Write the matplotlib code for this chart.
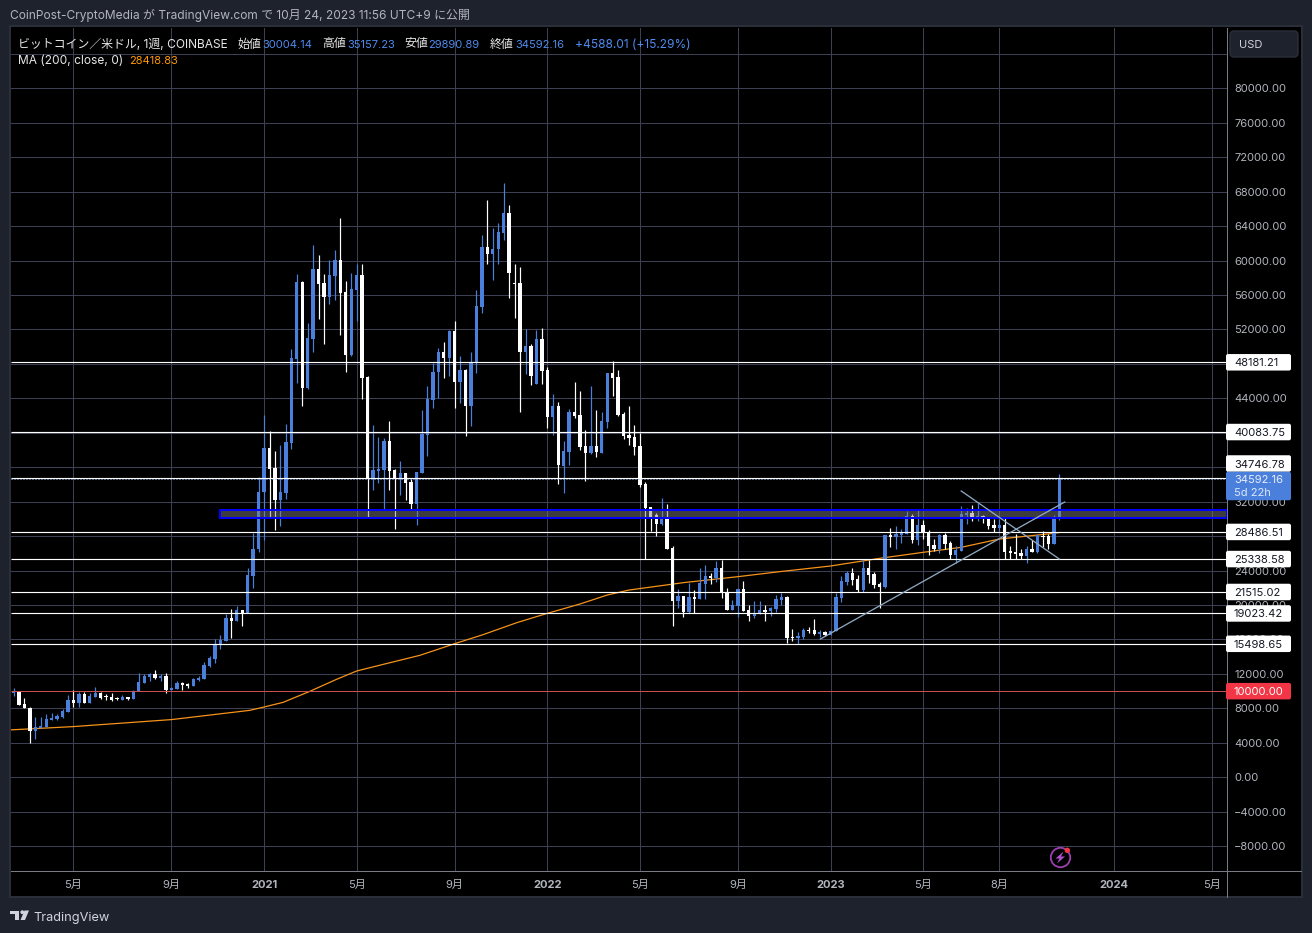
import matplotlib
matplotlib.use("Agg")
import matplotlib.pyplot as plt
import matplotlib.dates as mdates
import pandas as pd
from matplotlib.patches import Rectangle, FancyBboxPatch, Circle, Polygon

plt.rcParams['font.family'] = ['Inter', 'Noto Sans CJK JP', 'DejaVu Sans']

# weekly candles, 2020-02-17 .. 2023-10-23
opens = [9819, 9935, 8548, 8085, 5349, 5773, 5888, 6698, 6813, 7044,
         7623, 9010, 8663, 9704, 8663, 9357, 9819, 9396, 9357, 9126,
         9010, 9357, 9126, 10051, 10976, 11669, 12016, 11553, 11785, 10167,
         10282, 10976, 10860, 10629, 11322, 11438, 12941, 13751, 15485, 15832,
         18491, 18144, 19416, 19069, 23347, 26500, 33100, 38232, 35900, 32194,
         33009, 38813, 48565, 57505, 45198, 50887, 59014, 57389, 55763, 58202,
         60059, 56344, 49029, 56576, 58317, 46475, 34710, 35562, 35678, 39045,
         35678, 34710, 35330, 34285, 31730, 35330, 39740, 43800, 47056, 49380,
         48680, 51816, 45900, 47290, 43108, 48100, 54600, 61570, 60760, 61336,
         63193, 65516, 57388, 57388, 49378, 50075, 45662, 50887, 47288, 41831,
         43108, 36142, 37768, 42412, 42064, 38464, 37652, 38464, 37652, 41250,
         46940, 46475, 42180, 39742, 39510, 38464, 34053, 31382, 30453, 29408,
         29950, 26621, 20468, 21048, 19191, 20932, 20700, 22442, 23370, 23139,
         24299, 21513, 19423, 19888, 21861, 19423, 18726, 18959, 19423, 19307,
         19540, 20584, 20932, 16288, 16172, 16288, 17101, 17101, 16637, 16869,
         16520, 16985, 20816, 22674, 23719, 23022, 21745, 24299, 23603, 22441,
         22093, 28130, 27898, 28130, 28247, 30336, 27550, 29291, 28479, 26970,
         26505, 28130, 27202, 25809, 26273, 30453, 30685, 30220, 30336, 29988,
         29291, 28943, 29291, 26273, 26157, 26041, 25693, 26505, 26157, 28053,
         28014, 27086, 30004.14]
highs = [10398, 9935, 9241, 8201, 7006, 7006, 7392, 7469, 7392, 7892,
         9588, 10167, 9935, 9935, 9819, 10513, 9935, 9666, 9819, 9357,
         9588, 9357, 10167, 12132, 11977, 12132, 12479, 11939, 12132, 10513,
         11207, 11091, 10976, 11553, 11785, 13404, 14097, 16063, 16525, 18954,
         19532, 19878, 19416, 24272, 28363, 34865, 42063, 40206, 37883, 38580,
         41019, 49726, 58434, 57621, 52745, 61800, 60640, 58434, 60059, 61220,
         64900, 57621, 58550, 59595, 59595, 46590, 40902, 39510, 39393, 41367,
         35794, 36723, 35330, 34632, 35450, 42644, 45430, 48140, 49840, 50540,
         51930, 52980, 48900, 47400, 49380, 56576, 62960, 67025, 63774, 64355,
         68999, 66445, 59595, 59246, 52048, 50306, 51932, 52164, 47636, 44502,
         43573, 39045, 42760, 45895, 44850, 40322, 45430, 42644, 42412, 46940,
         48333, 47288, 42412, 43108, 40902, 39974, 34285, 31382, 30685, 32400,
         31730, 26853, 21861, 21048, 22558, 21745, 24299, 24647, 23719, 25112,
         25228, 21977, 20584, 21861, 22790, 20003, 20468, 20468, 20003, 19771,
         21165, 21397, 21048, 17217, 16868, 17333, 17450, 18378, 17101, 16985,
         17101, 21397, 23370, 23951, 24299, 23486, 25305, 25228, 23835, 22674,
         28130, 28943, 29175, 28827, 30917, 30568, 31033, 29872, 28711, 27627,
         28247, 28363, 27434, 26853, 31497, 31265, 31613, 31846, 30453, 29988,
         29988, 29988, 30220, 26853, 28247, 26505, 26853, 27550, 28130, 28595,
         28247, 30453, 35157.23]
lows = [9396, 8432, 8008, 3961, 4501, 5773, 5888, 6698, 6620, 6852,
        7623, 8201, 8201, 8663, 8663, 9357, 9126, 9010, 8895, 9010,
        9010, 9010, 9126, 10051, 10976, 11207, 11438, 11207, 9819, 10167,
        10282, 10167, 10398, 10629, 11207, 11438, 12826, 13288, 14907, 15832,
        16179, 18144, 17566, 19069, 21960, 26200, 27551, 30260, 28712, 29177,
        32311, 38116, 45779, 43109, 45083, 49378, 53209, 50307, 54951, 55415,
        51352, 47056, 48913, 52977, 43921, 30260, 33356, 34170, 31189, 33356,
        28828, 32776, 32195, 31100, 29300, 35330, 37300, 42875, 44040, 46360,
        46590, 42876, 43460, 39625, 40786, 46940, 53900, 59590, 57737, 59595,
        62380, 55647, 53325, 42412, 46824, 45546, 45662, 45662, 40554, 39742,
        34053, 33008, 36258, 41715, 38000, 34400, 37536, 37188, 37652, 40554,
        44270, 41947, 39277, 38580, 37420, 33705, 25344, 28595, 28015, 29291,
        26505, 17566, 19655, 18610, 19075, 19075, 20700, 20700, 22442, 22674,
        20816, 19423, 19423, 18610, 19307, 18146, 18494, 18959, 18146, 18726,
        19191, 20003, 15592, 15824, 15476, 16056, 16753, 16520, 16288, 16404,
        16520, 16985, 20352, 22325, 22325, 21513, 21513, 22558, 21977, 19655,
        21977, 26737, 26505, 27202, 28247, 27202, 26970, 27666, 25809, 26273,
        26041, 26505, 25344, 24880, 26273, 29408, 29756, 29756, 29524, 28827,
        28479, 28595, 25344, 25344, 25344, 25344, 24880, 26157, 26041, 26737,
        26505, 27086, 29890.89]
closes = [10012, 8432, 8008, 5349, 5850, 6004, 6813, 6929, 7160, 7738,
          9010, 8663, 9704, 8663, 9473, 9819, 9241, 9318, 9010, 9049,
          9357, 9126, 9935, 11091, 11785, 12016, 11553, 11785, 10167, 10398,
          10976, 10745, 10629, 11438, 11553, 13057, 13866, 15369, 15947, 18491,
          18144, 19416, 19069, 23463, 26500, 33124, 38232, 35794, 32194, 33125,
          38929, 48681, 57505, 45198, 51003, 59014, 57273, 55763, 58317, 60059,
          56228, 49029, 56692, 58317, 46359, 34710, 35678, 35794, 39045, 35562,
          34710, 35330, 34160, 31730, 35450, 39858, 43920, 47056, 49380, 48680,
          51816, 45900, 47290, 43110, 48100, 54720, 61570, 60760, 61336, 63310,
          65516, 58550, 57270, 49378, 50075, 46591, 50887, 47172, 41831, 43108,
          36258, 37884, 42412, 41947, 38348, 37652, 38464, 37768, 41367, 46940,
          46358, 42064, 39625, 39393, 38348, 33936, 31304, 30220, 29408, 30000,
          26505, 20468, 21048, 19191, 20932, 20700, 22558, 23370, 23139, 24299,
          21513, 19423, 20000, 21861, 19307, 18726, 18959, 19423, 19191, 19655,
          20700, 20932, 16172, 16172, 16404, 17101, 16985, 16637, 16869, 16520,
          16985, 20932, 22790, 23719, 22906, 21745, 24299, 23486, 22325, 22093,
          28130, 27898, 28247, 28363, 30336, 27550, 29291, 28363, 26853, 26505,
          28130, 27086, 25809, 26389, 30568, 30685, 30220, 30336, 30104, 29175,
          28943, 29291, 26157, 26041, 25925, 25693, 26505, 26157, 28130, 27898,
          27086, 30004.14, 34592.16]

first_week = '2020-02-17'

# 200 week MA, week number from first_week / value
ma_weeks = [-1, 11, 29, 43.4, 46, 49.5, 54.4, 59.3, 63, 67.9, 74.6, 81.2, 86.2,
            92.4, 97.6, 104, 109, 113, 123, 133, 141, 150, 159, 167, 174, 181, 191, 192]
ma_values = [5490, 5888, 6700, 7775, 8161, 8703, 9980, 11373, 12341, 13115, 14160,
             15553, 16559, 17952, 18959, 20120, 21160, 21740, 22600, 23293, 23900,
             24531, 25420, 26118, 26700, 27666, 28324, 28419]

levels = [48181.21, 40083.75, 34746.78, 28486.51, 25338.58, 21515.02, 19023.42, 15498.65]
last_close = 34592.16
red_level = 10000.00
band_low, band_high = 30105, 31073
band_start = '2020-11-08'

trend_up_dates = ['2022-12-20', '2023-10-30']
trend_up_prices = [16055, 31962]
trend_down_dates = ['2023-06-19', '2023-10-23']
trend_down_prices = [33239, 25344]

tick_dates = ['2020-05-04', '2020-09-07', '2021-01-04', '2021-05-03', '2021-09-06',
              '2022-01-03', '2022-05-02', '2022-09-05', '2023-01-02', '2023-05-01',
              '2023-08-07', '2024-01-01', '2024-05-06']
tick_labels = ['5月', '9月', '2021', '5月', '9月', '2022', '5月', '9月', '2023', '5月',
               '8月', '2024', '5月']
price_ticks = list(range(-8000, 84001, 4000))
# these labels are fully covered by the boxes and the USD button in the picture
hidden_ticks = [84000, 48000, 40000, 36000, 28000]

BG = '#1e222d'
GRID = '#3c4052'
BLUE = '#4a80dc'
BLUE_TXT = '#4f8bee'
TXT = '#b2b5be'
ORANGE = '#ff9800'
PX = 0.72  # one pixel in points at dpi 100
FS = 8.0
FS_TEXT = 8.6

W, H = 1312, 933
L, R, T, B = 11, 1226.5, 27.5, 870.5

fig = plt.figure(figsize=(W / 100, H / 100), dpi=100, facecolor=BG)


def pixel_axes(z):
    a = fig.add_axes([0, 0, 1, 1], zorder=z)
    a.set_xlim(0, W)
    a.set_ylim(H, 0)
    a.axis('off')
    return a


back = pixel_axes(0)
back.add_patch(Rectangle((10, 26), 1291.5, 871, fc='black', ec='#2a2e39', lw=1.5))

ax = fig.add_axes([L / W, 1 - B / H, (R - L) / W, (B - T) / H], zorder=1, facecolor='black')
front = pixel_axes(2)

dates = pd.date_range(first_week, periods=len(closes), freq='7D')
x = mdates.date2num(dates)
x0 = x[0]
ymin, ymax = -10820, 87051


def y_px(price):
    return T + (ymax - price) / (ymax - ymin) * (B - T)


ax.set_xlim(x0 - 0.46 * 7, x0 + 222.7 * 7)
ax.set_ylim(ymin, ymax)

# grid and axes
ax.set_axisbelow(True)
ax.grid(True, color=GRID, lw=PX)
ax.yaxis.tick_right()
ax.set_yticks(price_ticks)
ax.set_yticklabels([f'{p:.2f}'.replace('-', '\u2212') if p not in hidden_ticks else '' for p in price_ticks])
ax.set_xticks(mdates.date2num(pd.to_datetime(tick_dates)))
ax.set_xticklabels(tick_labels)
ax.tick_params(axis='both', length=0, labelcolor=TXT, labelsize=FS)
ax.tick_params(axis='y', pad=5.5)
ax.tick_params(axis='x', pad=6.5)
for lab in ax.get_xticklabels():
    if lab.get_text().isdigit():
        lab.set_fontweight('bold')
for s in ['top', 'left']:
    ax.spines[s].set_visible(False)
for s in ['right', 'bottom']:
    ax.spines[s].set_color('#787b86')
    ax.spines[s].set_linewidth(PX)

# moving average
ax.plot(x0 + pd.Series(ma_weeks) * 7, ma_values, color='#f7931a', lw=0.9, zorder=2)

# candles
colors = [BLUE if c >= o else 'white' for o, c in zip(opens, closes)]
ax.vlines(x, lows, highs, colors=colors, lw=PX * 1.2, zorder=3)
body_low = [min(o, c) for o, c in zip(opens, closes)]
body_h = [max(abs(c - o), 110) for o, c in zip(opens, closes)]
ax.bar(x, body_h, bottom=body_low, width=4.3, color=colors, lw=0, zorder=3)

# drawings
ax.hlines(levels, *ax.get_xlim(), colors='white', lw=PX * 1.15, zorder=4)
ax.hlines(last_close, *ax.get_xlim(), colors='#9ab8ee', lw=PX, linestyles=(0, (1, 2)), zorder=4)
ax.hlines(red_level, *ax.get_xlim(), colors='#c8504f', lw=PX, zorder=4)

bx = mdates.date2num(pd.Timestamp(band_start))
ax.add_patch(Rectangle((bx, band_low), ax.get_xlim()[1] - bx, band_high - band_low,
                       fc='#808080', alpha=0.48, lw=0, zorder=5))
ax.add_patch(Rectangle((bx, band_low), ax.get_xlim()[1] - bx, band_high - band_low,
                       fc='none', ec='#0000ff', lw=PX * 2, zorder=5))

ax.plot(mdates.date2num(pd.to_datetime(trend_up_dates)), trend_up_prices,
        color='#8fa9c2', lw=PX * 1.3, zorder=6)
ax.plot(mdates.date2num(pd.to_datetime(trend_down_dates)), trend_down_prices,
        color='#8fa9c2', lw=PX * 1.3, zorder=6)

# axis lines carried on into the bottom and right strips
front.plot([R, R], [870, 897], color='#787b86', lw=PX)
front.plot([R, 1301], [B, B], color='#787b86', lw=PX)

# header
front.text(10, 19.5, 'CoinPost-CryptoMedia が TradingView.com で 10月 24, 2023 11:56 UTC+9 に公開',
           color=TXT, fontsize=FS_TEXT, va='baseline')
front.text(18, 47.5, 'ビットコイン／米ドル, 1週, COINBASE', color='#e6e6e6', fontsize=FS_TEXT, va='baseline')
for px_x, s in [(237, '始値'), (322, '高値'), (404, '安値'), (490, '終値')]:
    front.text(px_x, 47.5, s, color='#e6e6e6', fontsize=FS_TEXT, va='baseline')
for px_x, s in [(262, '30004.14'), (347, '35157.23'), (428, '29890.89'), (515, '34592.16')]:
    front.text(px_x, 47.5, s, color=BLUE_TXT, fontsize=FS, va='baseline')
front.text(575, 47.5, '+4588.01 (+15.29%)', color=BLUE_TXT, fontsize=FS_TEXT, va='baseline')
front.text(18, 63.5, 'MA (200, close, 0)', color='#e6e6e6', fontsize=FS_TEXT, va='baseline')
front.text(129, 63.5, '28418.83', color=ORANGE, fontsize=FS, va='baseline')


def price_box(y, h, face, lines):
    front.add_patch(FancyBboxPatch((1226, y - h / 2), 65, h, boxstyle='round,pad=0,rounding_size=2',
                                   fc=face, ec='none', zorder=3))
    for off, s, c in lines:
        front.text(1234, y + off + 4, s, color=c, fontsize=FS, va='baseline', zorder=4)


# price labels, 34746.78 is pushed up above the last price box
for level in levels:
    yy = y_px(level)
    if level == 34746.78:
        yy = 463.5
    price_box(yy, 16.5, 'white', [(0, f'{level:.2f}', '#131722')])
price_box(486, 28.5, BLUE, [(-7, f'{last_close:.2f}', '#e8eefb'), (6.5, '5d 22h', '#dbe6fa')])
price_box(y_px(red_level), 16.5, '#f23645', [(0, f'{red_level:.2f}', 'white')])

# currency button
front.add_patch(FancyBboxPatch((1230, 31), 68, 26, boxstyle='round,pad=0,rounding_size=4',
                               fc='#1e222d', ec='#2a2e39', lw=1, zorder=3))
front.text(1239, 48, 'USD', color='#d1d4dc', fontsize=FS, va='baseline', zorder=4)

# lightning icon
front.add_patch(Circle((1060.5, 857.5), 9.7, fc='none', ec='#9c3fb0', lw=1.3))
front.add_patch(Polygon([(1063.5, 851.5), (1055.5, 858.5), (1059.5, 858.5), (1057, 863.5),
                         (1065, 856.5), (1061, 856.5)], fc='#b04fd0', ec='none'))
front.add_patch(Circle((1067.3, 850.3), 2.7, fc='#f23645', ec='none'))

# TradingView logo
logo = '#d1d4dc'
front.add_patch(Polygon([(10, 910.5), (19, 910.5), (19, 920), (14.5, 920), (14.5, 914), (10, 914)],
                        fc=logo, ec='none'))
front.add_patch(Circle((22.3, 912.2), 1.9, fc=logo, ec='none'))
front.add_patch(Polygon([(24.5, 910.5), (29, 910.5), (25, 920), (20.5, 920)], fc=logo, ec='none'))
front.text(33, 921, 'TradingView', color=logo, fontsize=9.2, va='baseline')

fig.savefig('out.png', dpi=100, facecolor=BG)
